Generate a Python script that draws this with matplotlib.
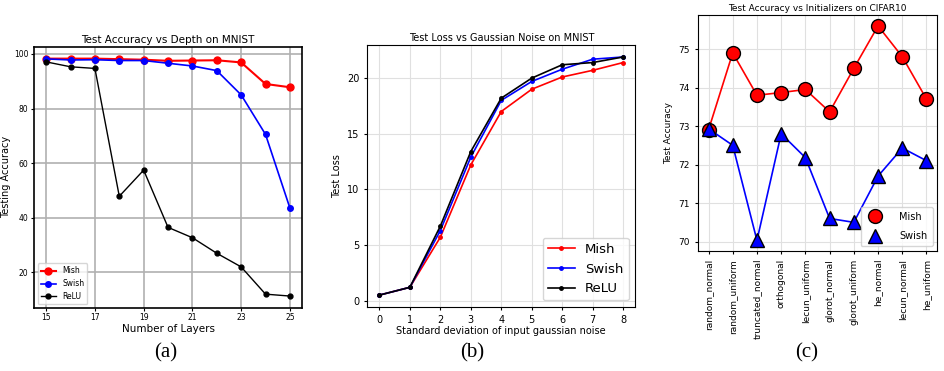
import matplotlib.pyplot as plt

# (a) accuracy vs depth
layers = [15, 16, 17, 18, 19, 20, 21, 22, 23, 24, 25]
mish_depth = [98.3, 98.3, 98.3, 98.1, 97.9, 97.5, 97.6, 97.7, 96.9, 89.0, 87.8]
swish_depth = [98.2, 97.8, 97.9, 97.6, 97.6, 96.6, 95.6, 93.9, 85.0, 70.5, 43.5]
relu_depth = [97.1, 95.3, 94.7, 47.8, 57.4, 36.4, 32.6, 26.9, 21.9, 11.9, 11.2]

# (b) loss vs gaussian noise
noise_std = [0, 1, 2, 3, 4, 5, 6, 7, 8]
mish_loss = [0.5, 1.2, 5.7, 12.2, 17.0, 19.0, 20.1, 20.7, 21.4]
swish_loss = [0.5, 1.2, 6.3, 12.9, 18.0, 19.7, 20.8, 21.7, 21.9]
relu_loss = [0.5, 1.2, 6.7, 13.4, 18.2, 20.0, 21.2, 21.4, 21.9]

# (c) accuracy vs initializers
initializers = ['random_normal', 'random_uniform', 'truncated_normal', 'orthogonal',
                'lecun_uniform', 'glorot_normal', 'glorot_uniform', 'he_normal',
                'lecun_normal', 'he_uniform']
mish_init = [72.9, 74.9, 73.8, 73.87, 73.95, 73.37, 74.5, 75.6, 74.8, 73.7]
swish_init = [72.93, 72.5, 70.03, 72.8, 72.18, 70.6, 70.5, 71.7, 72.43, 72.1]

fig = plt.figure(figsize=(9.44, 3.71), dpi=100)

# panel a
ax1 = fig.add_axes([0.036, 0.170, 0.284, 0.704])
ax1.plot(layers, mish_depth, 'o-', color='red', markersize=5, linewidth=1.5, label='Mish')
ax1.plot(layers, swish_depth, 'o-', color='blue', markersize=4, linewidth=1.2, label='Swish')
ax1.plot(layers, relu_depth, 'o-', color='black', markersize=3.5, linewidth=1.0, label='ReLU')
ax1.set_xticks([15, 17, 19, 21, 23, 25])
ax1.set_yticks([20, 40, 60, 80, 100])
ax1.grid(True, color='#b0b0b0', linewidth=1.2)
ax1.set_title('Test Accuracy vs Depth on MNIST', fontsize=7.5, pad=3)
ax1.set_xlabel('Number of Layers', fontsize=7.5, labelpad=1)
ax1.set_ylabel('Testing Accuracy', fontsize=7, labelpad=2)
ax1.tick_params(labelsize=5.5, length=2, pad=2)
ax1.legend(loc='lower left', fontsize=5.5)
for s in ax1.spines.values():
    s.set_linewidth(1.2)

# panel b
ax2 = fig.add_axes([0.389, 0.1725, 0.284, 0.706])
ax2.plot(noise_std, mish_loss, 'o-', color='red', markersize=2.5, linewidth=1.2, label='Mish')
ax2.plot(noise_std, swish_loss, 'o-', color='blue', markersize=2.5, linewidth=1.2, label='Swish')
ax2.plot(noise_std, relu_loss, 'o-', color='black', markersize=2.5, linewidth=1.2, label='ReLU')
ax2.set_yticks([0, 5, 10, 15, 20])
ax2.grid(True, color='#e0e0e0', linewidth=0.8)
ax2.set_title('Test Loss vs Gaussian Noise on MNIST', fontsize=7, pad=3)
ax2.set_xlabel('Standard deviation of input gaussian noise', fontsize=7, labelpad=1)
ax2.set_ylabel('Test Loss', fontsize=7)
ax2.tick_params(labelsize=7, length=2)
ax2.legend(loc='lower right', fontsize=9.5)

# panel c
ax3 = fig.add_axes([0.739, 0.323, 0.254, 0.636])
xs = range(len(initializers))
ax3.plot(xs, mish_init, '-', color='red', linewidth=1.2)
ax3.plot(xs, swish_init, '-', color='blue', linewidth=1.2)
ax3.plot(xs, mish_init, 'o', color='red', markeredgecolor='black', markersize=10, linestyle='none', label='Mish')
ax3.plot(xs, swish_init, '^', color='blue', markeredgecolor='black', markersize=10, linestyle='none', label='Swish')
ax3.set_xticks(list(xs))
ax3.set_xticklabels(initializers, rotation=90)
ax3.set_yticks([70, 71, 72, 73, 74, 75])
ax3.grid(True, color='#e0e0e0', linewidth=0.8)
ax3.set_title('Test Accuracy vs Initializers on CIFAR10', fontsize=6.5, pad=3)
ax3.set_ylabel('Test Accuracy', fontsize=6.5)
ax3.tick_params(labelsize=6.5, length=2)
ax3.legend(loc='lower right', fontsize=7, handletextpad=1.5, labelspacing=1.0, borderpad=0.5)

# captions
for x, lab in [(0.175, '(a)'), (0.50, '(b)'), (0.854, '(c)')]:
    fig.text(x, 0.05, lab, ha='center', va='center', fontsize=15, family='Liberation Serif')

fig.savefig('out.png', dpi=100)
